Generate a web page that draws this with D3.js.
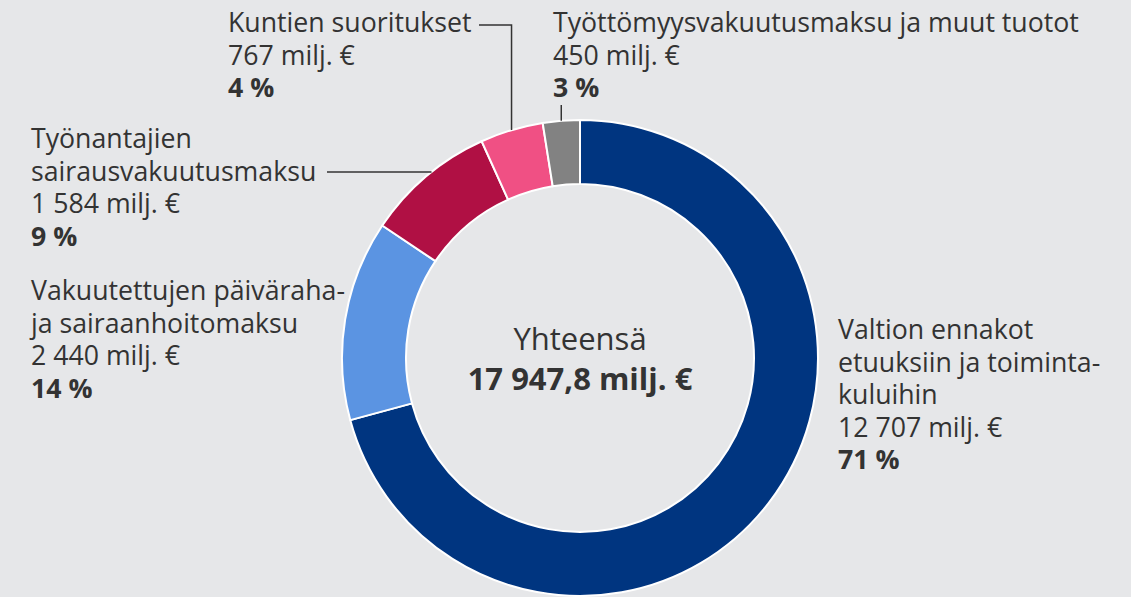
<!DOCTYPE html>
<html>
<head>
<meta charset="utf-8">
<script src="https://cdn.jsdelivr.net/npm/d3@7"></script>
<style>
  body { margin: 0; background: #e6e7e9; }
  svg { display: block; }
  text { font-family: "Open Sans", sans-serif; fill: #333; }
</style>
</head>
<body>
<svg width="1131" height="597"></svg>
<script>
// data, clockwise from top
var names = [
  ["Valtion ennakot", "etuuksiin ja toiminta-", "kuluihin"],
  ["Vakuutettujen päiväraha-", "ja sairaanhoitomaksu"],
  ["Työnantajien", "sairausvakuutusmaksu"],
  ["Kuntien suoritukset"],
  ["Työttömyysvakuutusmaksu ja muut tuotot"]
];
var values = [12707, 2440, 1584, 767, 450];
var amountLabels = ["12 707 milj. €", "2 440 milj. €", "1 584 milj. €", "767 milj. €", "450 milj. €"];
var pctLabels = ["71 %", "14 %", "9 %", "4 %", "3 %"];
var colors = ["#003580", "#5b94e2", "#b01044", "#f05084", "#828282"];
var totalLabel = "17 947,8 milj. €";

var svg = d3.select("svg");
var cx = 580, cy = 358;
var outerR = 238, innerR = 174;
var lineH = 32.5;

var g = svg.append("g").attr("transform", "translate(" + cx + "," + cy + ")");

var pie = d3.pie().sort(null).value(d => d);
var arcs = pie(values);
var arc = d3.arc().innerRadius(innerR).outerRadius(outerR);

g.selectAll(".slice")
  .data(arcs)
  .enter()
  .append("path")
  .attr("class", "slice")
  .attr("d", arc)
  .attr("fill", (d, i) => colors[i])
  .attr("stroke", "#fff")
  .attr("stroke-width", 2);

// center text
g.append("text")
  .attr("text-anchor", "middle")
  .attr("y", -8)
  .style("font-size", "31px")
  .text("Yhteensä");
g.append("text")
  .attr("text-anchor", "middle")
  .attr("y", 32)
  .style("font-size", "31px")
  .style("font-weight", "bold")
  .text(totalLabel);

// label blocks: x, first baseline
var labelPos = [
  {x: 838, y: 339},
  {x: 31, y: 300},
  {x: 31, y: 148},
  {x: 228, y: 32},
  {x: 553, y: 32}
];

labelPos.forEach(function(p, i) {
  var t = svg.append("text").attr("x", p.x).attr("y", p.y).style("font-size", "26.7px");
  var lines = names[i].concat([amountLabels[i]]);
  lines.forEach(function(s, k) {
    t.append("tspan").attr("x", p.x).attr("dy", k == 0 ? 0 : lineH).text(s);
  });
  t.append("tspan").attr("x", p.x).attr("dy", lineH).style("font-weight", "bold").text(pctLabels[i]);
});

// leader lines end on the outer edge of the slice
function edgePoint(d) {
  var a = (d.startAngle + d.endAngle) / 2;
  return [cx + outerR * Math.sin(a), cy - outerR * Math.cos(a)];
}
function edgeAtY(y) {
  return cx - Math.sqrt(outerR * outerR - (y - cy) * (y - cy));
}

var lines = svg.append("g")
  .attr("fill", "none")
  .attr("stroke", "#333")
  .attr("stroke-width", 1.5);

// Työnantajien: horizontal
lines.append("path").attr("d", "M327,172H" + edgeAtY(172));
// Kuntien: horizontal then down
var p3 = edgePoint(arcs[3]);
lines.append("path").attr("d", "M479,25H" + p3[0] + "V" + p3[1]);
// Työttömyys: short vertical
var p4 = edgePoint(arcs[4]);
lines.append("path").attr("d", "M" + p4[0] + ",105V" + p4[1]);
</script>
</body>
</html>
